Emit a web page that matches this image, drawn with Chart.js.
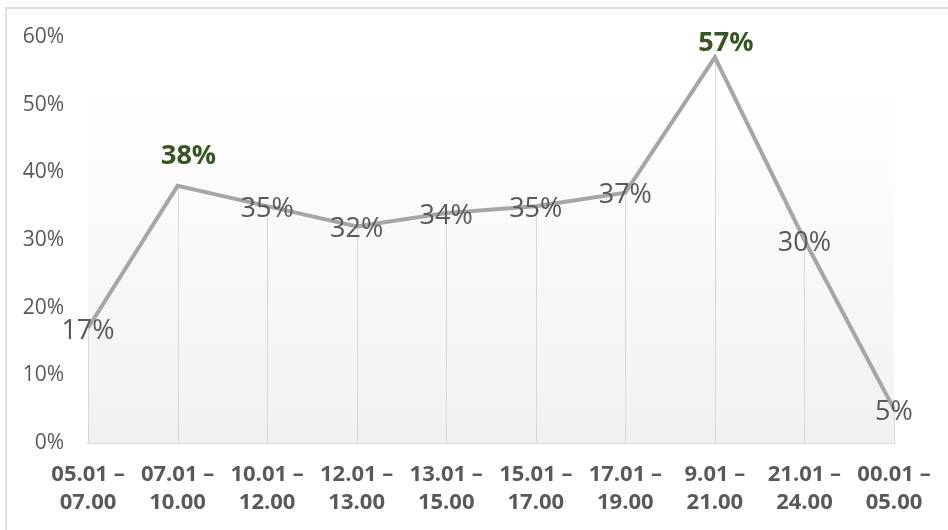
<!DOCTYPE html>
<html>
<head>
<meta charset="utf-8">
<script src="https://cdn.jsdelivr.net/npm/chart.js@4.4.0/dist/chart.umd.min.js"></script>
<style>
  html, body { margin: 0; padding: 0; background: #fff; overflow: hidden; }
  #frame { position: absolute; left: 5px; top: 7px; width: 960px; height: 540px;
           border-left: 2px solid #dedede; border-top: 2px solid #dedede; }
  #wrap { position: absolute; left: 0; top: 0; width: 948px; height: 530px; }
</style>
</head>
<body>
<div id="frame"></div>
<div id="wrap"><canvas id="timeChart"></canvas></div>
<script>
// time slots and share of activity
const slots = [
  ['05.01 –', '07.00'], ['07.01 –', '10.00'], ['10.01 –', '12.00'], ['12.01 –', '13.00'],
  ['13.01 –', '15.00'], ['15.01 –', '17.00'], ['17.01 –', '19.00'], ['9.01 –', '21.00'],
  ['21.01 –', '24.00'], ['00.01 –', '05.00']
];
const shares = [17, 38, 35, 32, 34, 35, 37, 57, 30, 5];
const highlighted = [1, 7];
const yTicks = [0, 10, 20, 30, 40, 50, 60];

const FONT = '"Open Sans", "Noto Sans", sans-serif';

// soft grey fill behind the line + drop lines from each point
const backdrop = {
  id: 'backdrop',
  beforeDatasetsDraw(chart) {
    const { ctx, chartArea, scales } = chart;
    const top = scales.y.getPixelForValue(52);
    const g = ctx.createLinearGradient(0, top, 0, chartArea.bottom);
    g.addColorStop(0, '#ffffff');
    g.addColorStop(1, '#f1f1f1');
    ctx.save();
    ctx.fillStyle = g;
    ctx.fillRect(chartArea.left, top, chartArea.right - chartArea.left, chartArea.bottom - top);
    ctx.strokeStyle = '#d9d9d9';
    ctx.lineWidth = 1;
    chart.getDatasetMeta(0).data.forEach(pt => {
      const x = Math.round(pt.x) + 0.5;
      ctx.beginPath();
      ctx.moveTo(x, pt.y);
      ctx.lineTo(x, chartArea.bottom);
      ctx.stroke();
    });
    ctx.restore();
  }
};

// value labels, centred on the points; the two peaks in bold green above
const valueLabels = {
  id: 'valueLabels',
  afterDatasetsDraw(chart) {
    const { ctx } = chart;
    const meta = chart.getDatasetMeta(0);
    ctx.save();
    ctx.textBaseline = 'middle';
    ctx.textAlign = 'center';
    meta.data.forEach((pt, i) => {
      const txt = shares[i] + '%';
      let x = pt.x, y = pt.y;
      if (highlighted.includes(i)) {
        ctx.font = 'bold 27px ' + FONT;
        ctx.fillStyle = '#375623';
        x += 11;
        y = Math.max(y - 30, 43);
      } else {
        ctx.font = '27px ' + FONT;
        ctx.fillStyle = '#595959';
        y += 3;
      }
      ctx.fillText(txt, x, y);
    });
    ctx.restore();
  }
};

new Chart(document.getElementById('timeChart'), {
  type: 'line',
  data: {
    labels: slots,
    datasets: [{
      data: shares,
      borderColor: '#a6a6a6',
      borderWidth: 4,
      pointRadius: 0,
      tension: 0,
      fill: false
    }]
  },
  options: {
    responsive: true,
    maintainAspectRatio: false,
    animation: false,
    layout: { padding: { top: 37, right: 54, left: 0, bottom: 0 } },
    plugins: { legend: { display: false }, tooltip: { enabled: false } },
    scales: {
      x: {
        offset: false,
        grid: { display: false, drawTicks: false },
        border: { display: true, color: '#d9d9d9', width: 2 },
        ticks: {
          color: '#595959',
          font: { family: FONT, size: 22, weight: 'bold', lineHeight: 1.3 },
          padding: 17,
          maxRotation: 0,
          autoSkip: false
        },
        afterFit(scale) { scale.height = 87; }
      },
      y: {
        min: 0,
        max: 60,
        afterBuildTicks(scale) { scale.ticks = yTicks.map(v => ({ value: v })); },
        grid: { display: false, drawTicks: false },
        border: { display: false },
        ticks: {
          color: '#595959',
          font: { family: FONT, size: 21 },
          padding: 24,
          callback: v => v + '%'
        },
        afterFit(scale) { scale.width = 88; }
      }
    }
  },
  plugins: [backdrop, valueLabels]
});
</script>
</body>
</html>
